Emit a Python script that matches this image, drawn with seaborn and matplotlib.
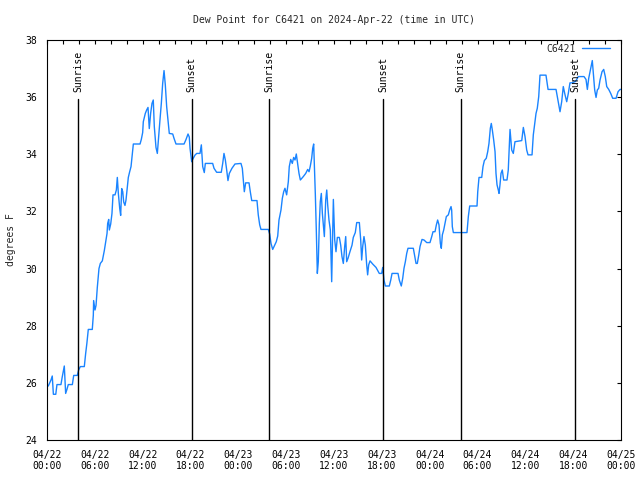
import numpy as np
import pandas as pd
import matplotlib
matplotlib.use("Agg")
import matplotlib.pyplot as plt
import matplotlib.dates as mdates
import seaborn as sns

# ---- data (hours since 2024-04-22 00:00 UTC, dew point in F) ----
hours = [0.05, 0.16, 0.5, 0.66, 0.8, 1.1, 1.25, 1.75, 1.9, 2.17, 2.34, 2.5, 2.67, 3.18, 3.35, 3.8,
         3.97, 4.18, 4.68, 4.85, 5.0, 5.18, 5.68, 5.81, 5.85, 6.02, 6.15, 6.31, 6.52, 6.69, 6.94,
         7.19, 7.36, 7.53, 7.61, 7.74, 7.82, 7.99, 8.15, 8.28, 8.53, 8.7, 8.82, 8.95, 9.12, 9.24,
         9.37, 9.5, 9.62, 9.78, 9.91, 10.03, 10.2, 10.37, 10.54, 10.7, 10.83, 11.67, 11.83, 12.0,
         12.08, 12.33, 12.5, 12.67, 12.83, 13.0, 13.17, 13.33, 13.46, 13.67, 13.84, 14.0, 14.17,
         14.34, 14.51, 14.68, 14.84, 15.01, 15.18, 15.34, 15.77, 15.93, 16.18, 17.19, 17.44, 17.69,
         17.85, 17.94, 18.15, 18.27, 18.56, 18.78, 19.19, 19.36, 19.53, 19.73, 19.86, 20.78, 20.95,
         21.28, 21.86, 22.04, 22.2, 22.37, 22.54, 22.7, 22.87, 23.2, 23.58, 24.33, 24.5, 24.67,
         24.75, 24.92, 25.34, 25.5, 25.68, 26.34, 26.5, 26.68, 26.84, 27.76, 27.93, 28.1, 28.31,
         28.51, 28.76, 28.94, 29.1, 29.35, 29.52, 29.69, 29.85, 30.06, 30.27, 30.39, 30.57, 30.77,
         30.94, 31.11, 31.27, 31.44, 31.61, 31.78, 32.15, 32.45, 32.7, 32.87, 33.03, 33.2, 33.33,
         33.45, 33.53, 33.66, 33.78, 33.91, 34.03, 34.16, 34.28, 34.41, 34.54, 34.66, 34.79, 34.96,
         35.09, 35.21, 35.37, 35.54, 35.71, 35.92, 36.09, 36.25, 36.42, 36.67, 36.84, 37.0, 37.17,
         37.34, 37.47, 37.59, 37.76, 38.0, 38.26, 38.42, 38.67, 38.85, 39.18, 39.35, 39.47, 39.6,
         39.76, 39.93, 40.1, 40.22, 40.35, 40.52, 40.85, 41.27, 41.68, 41.98, 42.11, 42.27, 42.44,
         42.94, 43.12, 43.28, 44.03, 44.19, 44.44, 44.62, 44.78, 44.95, 45.12, 45.28, 45.95, 46.12,
         46.29, 46.45, 46.63, 46.79, 47.04, 47.29, 47.63, 48.04, 48.26, 48.42, 48.67, 48.84, 49.0,
         49.17, 49.34, 49.46, 49.59, 49.76, 49.92, 50.09, 50.34, 50.51, 50.68, 50.76, 50.84, 50.97,
         52.68, 52.85, 53.02, 53.94, 54.03, 54.19, 54.53, 54.69, 54.86, 55.1, 55.28, 55.44, 55.61,
         55.73, 55.86, 56.03, 56.2, 56.32, 56.45, 56.61, 56.7, 56.82, 56.95, 57.11, 57.28, 57.7,
         57.86, 58.08, 58.29, 58.49, 58.7, 59.55, 59.75, 59.96, 60.17, 60.34, 60.84, 61.0, 61.18,
         61.34, 61.5, 61.68, 61.84, 62.59, 62.85, 63.85, 64.01, 64.19, 64.35, 64.56, 64.76, 64.98,
         65.19, 65.39, 65.6, 65.85, 66.3, 66.65, 67.36, 67.61, 67.78, 67.95, 68.2, 68.4, 68.53,
         68.7, 68.87, 69.03, 69.2, 69.37, 69.62, 69.83, 70.03, 70.21, 70.46, 70.71, 70.96, 71.38,
         71.63, 71.88, 72.0]

dewpoint = [25.9, 25.89, 26.1, 26.24, 25.6, 25.6, 25.94, 25.94, 26.19, 26.59, 25.63, 25.77, 25.94, 25.94, 26.26, 26.26,
            26.45, 26.57, 26.57, 27.03, 27.38, 27.87, 27.87, 28.37, 28.88, 28.55, 28.71, 29.34, 30.0, 30.18, 30.27,
            30.63, 30.94, 31.23, 31.58, 31.72, 31.35, 31.56, 31.93, 32.58, 32.58, 32.75, 33.19, 32.63, 32.11, 31.86,
            32.8, 32.69, 32.33, 32.21, 32.4, 32.73, 33.19, 33.39, 33.57, 33.99, 34.36, 34.36, 34.52, 34.76,
            35.14, 35.43, 35.55, 35.64, 34.9, 35.43, 35.78, 35.9, 34.97, 34.24, 34.03, 34.62, 35.2,
            35.78, 36.48, 36.93, 36.43, 35.67, 35.2, 34.73, 34.71, 34.56, 34.36, 34.36, 34.52, 34.71,
            34.6, 34.21, 33.74, 33.82, 33.97, 34.03, 34.03, 34.33, 33.57, 33.36, 33.68, 33.68, 33.51,
            33.37, 33.37, 33.68, 34.03, 33.8, 33.45, 33.08, 33.33, 33.51, 33.66, 33.68, 33.51, 32.98,
            32.69, 33.0, 33.0, 32.69, 32.38, 32.38, 31.88, 31.53, 31.37, 31.37, 31.21, 30.88, 30.67,
            30.79, 30.94, 31.14, 31.7, 32.05, 32.46, 32.69, 32.81, 32.58, 33.04, 33.57, 33.82, 33.68,
            33.89, 33.8, 34.01, 33.68, 33.33, 33.1, 33.22, 33.33, 33.47, 33.39, 33.59, 33.86, 34.21,
            34.36, 33.68, 32.58, 31.35, 29.83, 30.24, 31.58, 32.34, 32.63, 31.93, 31.53, 31.12, 32.4,
            32.75, 32.22, 31.7, 31.35, 29.54, 32.42, 31.0, 30.59, 31.09, 31.09, 30.82, 30.42, 30.18,
            30.77, 31.12, 30.24, 30.36, 30.59, 30.82, 31.09, 31.26, 31.61, 31.61, 31.0, 30.3, 30.77,
            31.12, 30.82, 30.13, 29.78, 30.13, 30.27, 30.16, 30.04, 29.83, 29.83, 30.04, 29.6, 29.39,
            29.39, 29.6, 29.83, 29.83, 29.6, 29.39, 29.66, 30.01, 30.24, 30.53, 30.71, 30.71, 30.44,
            30.18, 30.18, 30.47, 30.77, 31.02, 31.0, 30.91, 30.91, 31.12, 31.29, 31.29, 31.53, 31.7,
            31.53, 30.88, 30.71, 31.18, 31.35, 31.58, 31.82, 31.88, 32.05, 32.17, 32.05, 31.47, 31.26,
            31.26, 31.82, 32.19, 32.19, 32.69, 33.19, 33.19, 33.57, 33.78, 33.86, 34.09, 34.38, 34.91,
            35.08, 34.85, 34.5, 34.09, 33.33, 32.93, 32.75, 32.63, 32.93, 33.33, 33.45, 33.1, 33.1,
            33.45, 34.87, 34.15, 34.03, 34.44, 34.48, 34.94, 34.62, 34.15, 33.98, 33.98, 34.68, 35.08,
            35.43, 35.61, 36.02, 36.77, 36.77, 36.27, 36.27, 36.02, 35.73, 35.49, 35.84, 36.37, 36.08,
            35.84, 36.13, 36.5, 36.5, 36.55, 36.72, 36.72, 36.62, 36.27, 36.66, 37.01, 37.28, 36.83,
            36.25, 35.99, 36.25, 36.31, 36.6, 36.89, 36.97, 36.72, 36.37, 36.27, 36.13, 35.96, 35.96,
            36.19, 36.27, 36.27]

sun_hours = [3.93, 18.13, 27.88, 42.18, 51.87, 66.27]
sun_labels = ["Sunrise", "Sunset", "Sunrise", "Sunset", "Sunrise", "Sunset"]

station = "C6421"
title = "Dew Point for C6421 on 2024-Apr-22 (time in UTC)"
ylabel = "degrees F"
y_ticks = [24, 26, 28, 30, 32, 34, 36, 38]

base = pd.Timestamp("2024-04-22 00:00")
df = pd.DataFrame({
    "time": base + pd.to_timedelta(hours, unit="h"),
    "dewpoint": dewpoint,
})

sns.set_style("white")
plt.rcParams["font.family"] = ["DejaVu Sans Mono", "DejaVu Sans"]
plt.rcParams["font.size"] = 7

fig = plt.figure(figsize=(6.4, 4.8), dpi=100)
ax = fig.add_axes([47 / 640, 40 / 480, 574 / 640, 400 / 480])

sns.lineplot(data=df, x="time", y="dewpoint", ax=ax, color="#1a84ff",
             linewidth=1.0, label=station, estimator=None, sort=False)

for h, lab in zip(sun_hours, sun_labels):
    t = base + pd.Timedelta(hours=h)
    ax.axvline(t, ymin=0, ymax=(35.93 - 24) / 14, color="black", linewidth=1.0)
    ax.text(t, 36.18, lab, rotation=90, ha="center", va="bottom", fontsize=7, color="black")

ax.set_xlim(base, base + pd.Timedelta(hours=72))
ax.set_ylim(24, 38)
ax.set_yticks(y_ticks)

ax.xaxis.set_major_locator(mdates.HourLocator(byhour=range(0, 24, 6)))
ax.xaxis.set_minor_locator(mdates.HourLocator(byhour=range(0, 24, 2)))
ax.xaxis.set_major_formatter(mdates.DateFormatter("%m/%d\n%H:%M"))

ax.tick_params(axis="both", which="both", direction="in", top=True, right=True,
               length=3, width=0.8, color="black", labelsize=7, labelcolor="black")
ax.tick_params(axis="x", which="major", pad=7)
ax.tick_params(axis="y", which="major", pad=7)

for sp in ax.spines.values():
    sp.set_visible(True)
    sp.set_color("black")
    sp.set_linewidth(0.8)

ax.set_xlabel("")
ax.set_ylabel(ylabel, fontsize=7, labelpad=7)
ax.set_title(title, fontsize=7, pad=12)

leg = ax.legend(loc="upper right", bbox_to_anchor=(0.988, 1.0), frameon=False,
                markerfirst=False, handlelength=2.9, handletextpad=0.6,
                borderaxespad=0.0, fontsize=7)

fig.savefig("out.png", dpi=100, facecolor="white")
